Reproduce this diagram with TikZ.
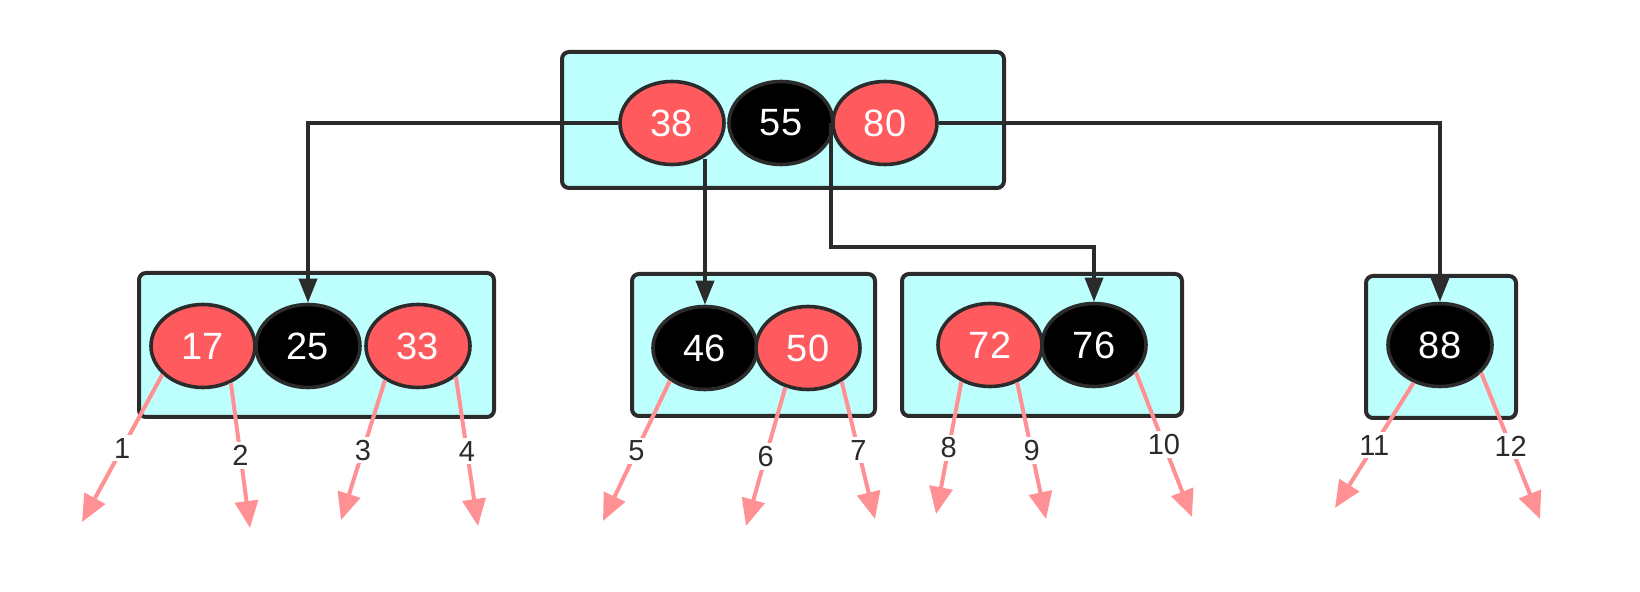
\documentclass[tikz,border=0pt]{standalone}
\usepackage{fontspec}
\setmainfont{Liberation Sans}
\usetikzlibrary{arrows.meta,shapes.geometric,calc}
\definecolor{boxfill}{HTML}{BDFFFC}
\definecolor{redkey}{HTML}{FF5A5E}
\definecolor{edgec}{HTML}{2B2B2B}
\definecolor{pinkarr}{HTML}{FF9093}
\tikzset{
  bbox/.style={draw=edgec, line width=2pt, fill=boxfill, rounded corners=3.5pt, inner sep=0pt},
  key/.style={ellipse, draw=edgec, line width=1.8pt, minimum width=52pt, minimum height=41.5pt, inner sep=0pt, text=white, font=\fontsize{19}{19}\selectfont},
  rkey/.style={key, fill=redkey},
  bkey/.style={key, fill=black},
  link/.style={draw=edgec, line width=1.8pt, -{Triangle[length=12pt,width=9pt]}},
  nil/.style={draw=pinkarr, line width=2pt, -{Triangle[length=13.5pt,width=11.5pt]}},
  lab/.style={fill=white, inner sep=1.5pt, text=edgec, font=\fontsize{14.5}{14.5}\selectfont}
}
\begin{document}
\begin{tikzpicture}[x=0.5pt,y=-0.5pt]
\useasboundingbox (0,0) rectangle (1640,592);
% boxes
\node[bbox, minimum width=221pt, minimum height=68pt] (top) at (783,120) {};
\node[bbox, minimum width=177.5pt, minimum height=72pt] (b1) at (316.5,345) {};
\node[bbox, minimum width=121.5pt, minimum height=71pt] (b2) at (753.5,345) {};
\node[bbox, minimum width=140pt, minimum height=71pt] (b3) at (1042,345) {};
\node[bbox, minimum width=75pt, minimum height=71pt] (b4) at (1441,347) {};
% keys
\node[rkey] (k38) at (672,123) {38};
\node[bkey] (k55) at (781,123) {55};
\node[rkey] (k80) at (885,123) {80};
\node[rkey] (k17) at (203,346) {17};
\node[bkey] (k25) at (308,346) {25};
\node[rkey] (k33) at (418,346) {33};
\node[bkey] (k46) at (705,348) {46};
\node[rkey] (k50) at (808,348) {50};
\node[rkey] (k72) at (990,345) {72};
\node[bkey] (k76) at (1094,345) {76};
\node[bkey] (k88) at (1440,345) {88};
% links
\draw[link] (k38.west) -| (k25.north);
\draw[link] (k80.east) -| (k88.north);
\draw[link] (k46.north |- k38.-50) -- (k46.north);
\draw[link] ($(k55.east)+(-4,0)$) -- ++(0,124) -| (k76.north);
% nil pointers
\coordinate (e1) at (82,522);
\coordinate (e2) at (250,528);
\coordinate (e3) at (341,520);
\coordinate (e4) at (478,526);
\coordinate (e5) at (603,521);
\coordinate (e6) at (746,526);
\coordinate (e7) at (875,519);
\coordinate (e8) at (936,514);
\coordinate (e9) at (1046,519);
\coordinate (e10) at (1192,517);
\coordinate (e11) at (1335,508);
\coordinate (e12) at (1540,519);
\draw[nil] (k17.-145) -- node[lab] (l1) {1} (e1);
\draw[nil] (k17.-53) -- node[lab] (l2) {2} (e2);
\draw[nil] (k33.-134) -- node[lab] (l3) {3} (e3);
\draw[nil] (k33.-39) -- node[lab] (l4) {4} (e4);
\draw[nil] (k46.-137) -- node[lab] (l5) {5} (e5);
\draw[nil] (k50.-120) -- node[lab] (l6) {6} (e6);
\draw[nil] (k50.-45) -- node[lab] (l7) {7} (e7);
\draw[nil] (k72.-128) -- node[lab] (l8) {8} (e8);
\draw[nil] (k72.-54) -- node[lab] (l9) {9} (e9);
\draw[nil] (k76.-33) -- node[lab] (l10) {10} (e10);
\draw[nil] (k88.-125) -- node[lab] (l11) {11} (e11);
\draw[nil] (k88.-34) -- node[lab] (l12) {12} (e12);
\end{tikzpicture}
\end{document}
